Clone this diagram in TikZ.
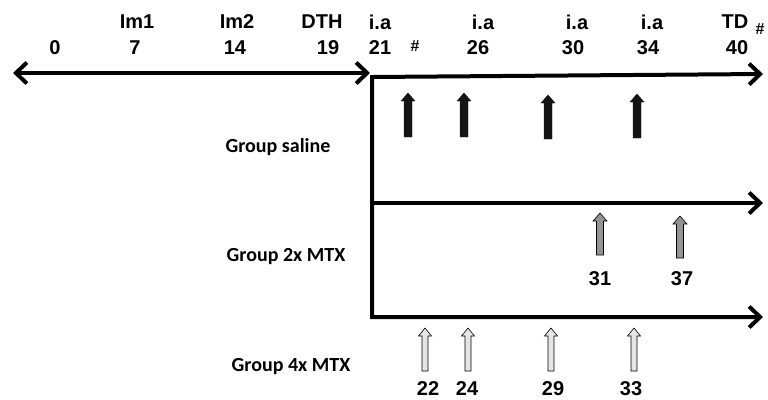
\documentclass[tikz,border=0pt]{standalone}
\usepackage{fontspec}
\setmainfont{Liberation Sans}
\newfontfamily\groupfont{Carlito}
\usetikzlibrary{arrows.meta}

\tikzset{
  barb/.tip={Straight Barb[length=11pt,width=21pt,line width=4pt]},
  axis/.style={line width=4pt, line join=miter},
  daylabel/.style={font=\bfseries\fontsize{20}{20}\selectfont, inner sep=0pt},
  smallmark/.style={font=\bfseries\fontsize{16}{16}\selectfont, inner sep=0pt},
  grouplabel/.style={font=\groupfont\bfseries\fontsize{20}{20}\selectfont, inner sep=0pt},
  salinearrow/.style={fill=black!92, draw=black!92, line width=0.4pt},
  twoxarrow/.style={fill=black!42, draw=black, line width=0.6pt},
  fourxarrow/.style={fill=black!10, draw=black, line width=0.6pt},
}

\begin{document}
\begin{tikzpicture}[x=1pt,y=-1pt]
  \useasboundingbox (0,0) rectangle (768,399);

  % time axis up to the first injection
  \coordinate (start) at (13,73);
  \coordinate (split) at (370,73);
  \draw[axis, barb-barb] (start) -- (split);

  % branching group axes
  \coordinate (salineEnd) at (763,74);
  \coordinate (cornerTop) at (372,77);
  \coordinate (cornerMid) at (372,203);
  \coordinate (cornerBot) at (372,317);
  \coordinate (twoxEnd) at (763,203);
  \coordinate (fourxEnd) at (763,317);
  \draw[axis, barb-barb] (salineEnd) -- (cornerTop) -- (cornerBot) -- (fourxEnd);
  \draw[axis, -barb] (cornerMid) -- (twoxEnd);

  % event names
  \node[daylabel] (im1) at (137,22) {Im1};
  \node[daylabel] (im2) at (237,22) {Im2};
  \node[daylabel] (dth) at (322,22) {DTH};
  \node[daylabel] (ia1) at (380,22) {i.a};
  \node[daylabel] (ia2) at (483,22) {i.a};
  \node[daylabel] (ia3) at (577,22) {i.a};
  \node[daylabel] (ia4) at (652,22) {i.a};
  \node[daylabel] (td)  at (735,22) {TD};
  \node[smallmark] (tdmark) at (760,29) {\#};

  % days
  \node[daylabel] (d0)  at (55,48) {0};
  \node[daylabel] (d7)  at (135,48) {7};
  \node[daylabel] (d14) at (235,48) {14};
  \node[daylabel] (d19) at (328,48) {19};
  \node[daylabel] (d21) at (380,48) {21};
  \node[smallmark] (dmark) at (415,46) {\#};
  \node[daylabel] (d26) at (478,48) {26};
  \node[daylabel] (d30) at (573,48) {30};
  \node[daylabel] (d34) at (648,48) {34};
  \node[daylabel] (d40) at (737,48) {40};

  % group names
  \node[grouplabel] (gsaline) at (278,147) {Group saline};
  \node[grouplabel] (gtwox)   at (286,257) {Group 2x MTX};
  \node[grouplabel] (gfourx)  at (291,367) {Group 4x MTX};

  % saline injections
  \foreach \x/\t/\b in {408/93/137, 464/93/137, 548/95/139, 637/94/138}
    \draw[salinearrow] ({\x-4},\b) -- ({\x-4},{\t+8}) -- ({\x-7},{\t+8})
      -- (\x,\t) -- ({\x+7},{\t+8}) -- ({\x+4},{\t+8}) -- ({\x+4},\b) -- cycle;

  % 2x MTX doses
  \foreach \x/\t/\b in {600/213/255, 680/216/258}
    \draw[twoxarrow] ({\x-3.5},\b) -- ({\x-3.5},{\t+8}) -- ({\x-7},{\t+8})
      -- (\x,\t) -- ({\x+7},{\t+8}) -- ({\x+3.5},{\t+8}) -- ({\x+3.5},\b) -- cycle;
  \node[daylabel] (d31) at (600,279) {31};
  \node[daylabel] (d37) at (682,279) {37};

  % 4x MTX doses
  \foreach \x/\t/\b in {425/328/371, 468/328/371, 551/328/371, 634/328/371}
    \draw[fourxarrow] ({\x-3},\b) -- ({\x-3},{\t+8}) -- ({\x-6.5},{\t+8})
      -- (\x,\t) -- ({\x+6.5},{\t+8}) -- ({\x+3},{\t+8}) -- ({\x+3},\b) -- cycle;
  \node[daylabel] (d22) at (428,389) {22};
  \node[daylabel] (d24) at (467,389) {24};
  \node[daylabel] (d29) at (553,389) {29};
  \node[daylabel] (d33) at (631,389) {33};
\end{tikzpicture}
\end{document}
